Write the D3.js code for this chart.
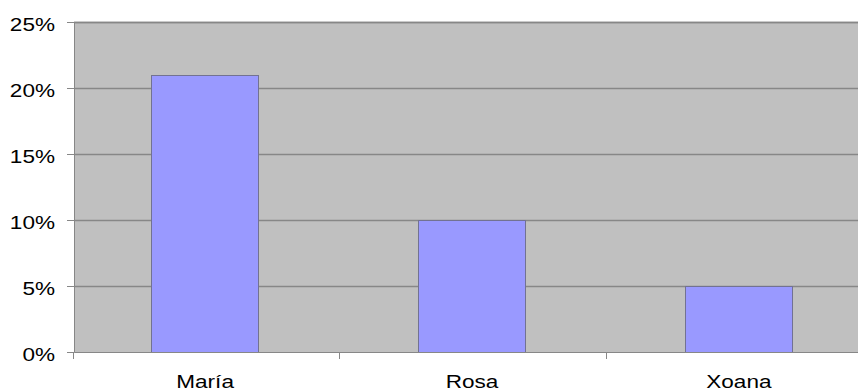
<!DOCTYPE html>
<html>
<head>
<meta charset="utf-8">
<script src="https://cdn.jsdelivr.net/npm/d3@7"></script>
<style>
  html, body { margin: 0; padding: 0; background: #ffffff; }
  svg { display: block; }
  text { font-family: "Liberation Sans", Arial, sans-serif; fill: #000; }
</style>
</head>
<body>
<svg id="chart" width="858" height="392"></svg>
<script>
// Share of each person (percent)
const categories = ["María", "Rosa", "Xoana"];
const values = [21, 10, 5];
const yTicks = [0, 5, 10, 15, 20, 25];

const width = 858, height = 392;
const margin = { top: 22, right: -14, bottom: 40, left: 74 };
const innerW = width - margin.left - margin.right;
const innerH = height - margin.top - margin.bottom;
const stretch = 1.22; // labels are drawn horizontally widened

const svg = d3.select("#chart");
const g = svg.append("g").attr("transform", `translate(${margin.left},${margin.top})`);

const x = d3.scaleBand().domain(categories).range([0, innerW]).paddingInner(0.598).paddingOuter(0.294);
const y = d3.scaleLinear().domain([0, 25]).range([innerH, 0]);

// plot background
g.append("rect")
  .attr("x", 0).attr("y", 0)
  .attr("width", innerW).attr("height", innerH)
  .attr("fill", "#c0c0c0");

// horizontal gridlines
g.selectAll("line.grid")
  .data(yTicks.filter(d => d > 0))
  .join("line")
  .attr("class", "grid")
  .attr("x1", 0).attr("x2", innerW)
  .attr("y1", d => Math.round(y(d)) + 0.5).attr("y2", d => Math.round(y(d)) + 0.5)
  .attr("stroke", "#878787").attr("stroke-width", 1.3);

// bars
g.selectAll("rect.bar")
  .data(values)
  .join("rect")
  .attr("class", "bar")
  .attr("x", (d, i) => Math.floor(x(categories[i])) - 0.5)
  .attr("y", d => Math.round(y(d)) + 0.5)
  .attr("width", Math.round(x.bandwidth()))
  .attr("height", d => innerH - Math.round(y(d)))
  .attr("fill", "#9999ff")
  .attr("stroke", "#727292").attr("stroke-width", 1);

// y axis
const yAxis = g.append("g")
  .call(d3.axisLeft(y).tickValues(yTicks).tickFormat(d => d + "%").tickSize(7).tickPadding(12));
yAxis.select(".domain").attr("stroke", "#878787");
yAxis.selectAll(".tick line").attr("stroke", "#878787");
yAxis.selectAll(".tick text")
  .attr("font-size", 18.5)
  .attr("x", -19 / stretch)
  .attr("dy", "0.45em")
  .attr("transform", `scale(${stretch},1)`);

// x axis with ticks at band boundaries
const xAxis = g.append("g")
  .attr("transform", `translate(0,${innerH})`)
  .call(d3.axisBottom(x).tickSize(0).tickPadding(0));
xAxis.select(".domain").attr("stroke", "#878787");
xAxis.selectAll(".tick text")
  .attr("font-size", 18.5)
  .attr("x", -1 / stretch)
  .attr("y", 36)
  .attr("dy", 0)
  .attr("transform", `scale(${stretch},1)`);

const step = x.step();
const bounds = d3.range(0, categories.length + 1).map(i => x.range()[0] + i * step);
g.selectAll("line.xtick")
  .data(bounds)
  .join("line")
  .attr("class", "xtick")
  .attr("x1", d => Math.floor(d) - 0.5).attr("x2", d => Math.floor(d) - 0.5)
  .attr("y1", innerH).attr("y2", innerH + 7)
  .attr("stroke", "#878787");

// top border of plot
g.append("line")
  .attr("x1", 0).attr("x2", innerW)
  .attr("y1", 0.5).attr("y2", 0.5)
  .attr("stroke", "#878787").attr("stroke-width", 1.3);
</script>
</body>
</html>
